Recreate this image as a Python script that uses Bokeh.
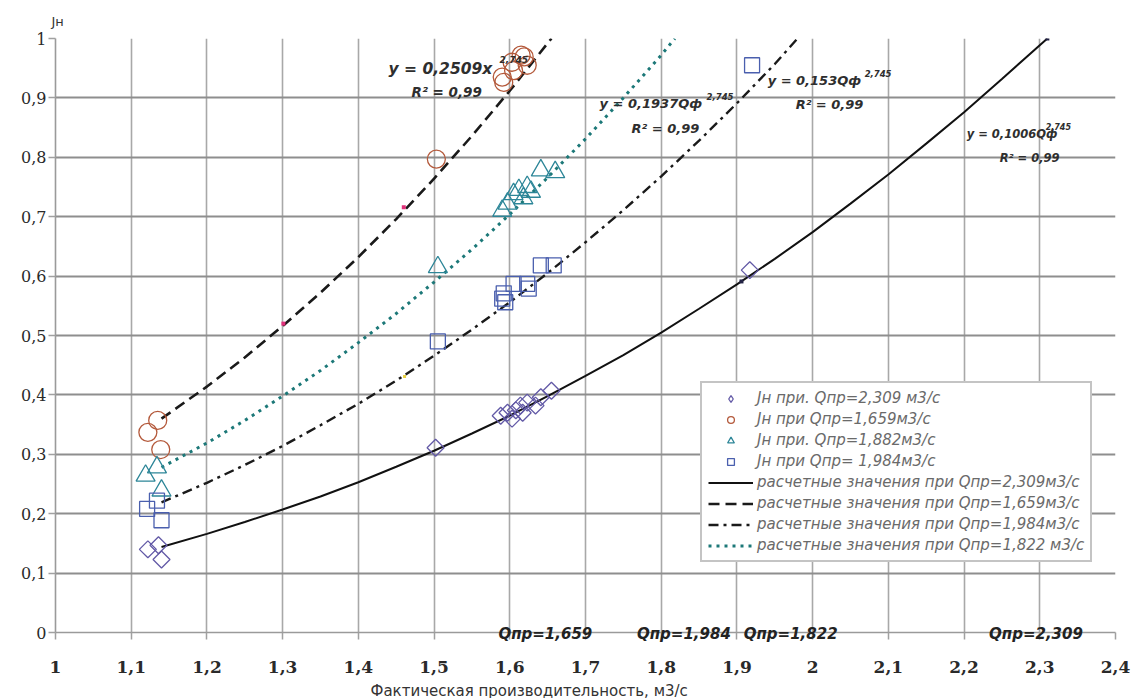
from bokeh.plotting import figure
from bokeh.models import (FixedTicker, Label, Legend, LegendItem, LinearAxis, Title)
from bokeh.embed import file_html
from bokeh.resources import INLINE
import math

# ---------------- data ----------------
x_ticks = [1.0, 1.1, 1.2, 1.3, 1.4, 1.5, 1.6, 1.7, 1.8, 1.9, 2.0, 2.1, 2.2, 2.3, 2.4]
x_tick_labels = ["1", "1,1", "1,2", "1,3", "1,4", "1,5", "1,6", "1,7", "1,8", "1,9",
                 "2", "2,1", "2,2", "2,3", "2,4"]
y_ticks = [0.0, 0.1, 0.2, 0.3, 0.4, 0.5, 0.6, 0.7, 0.8, 0.9, 1.0]
y_tick_labels = ["0", "0,1", "0,2", "0,3", "0,4", "0,5", "0,6", "0,7", "0,8", "0,9", "1"]

# Jн при Qпр=2,309 (diamonds)
diam_x = [1.122, 1.136, 1.140, 1.502, 1.588, 1.597, 1.603, 1.608, 1.614, 1.617,
          1.623, 1.634, 1.641, 1.655, 1.917]
diam_y = [0.140, 0.147, 0.123, 0.311, 0.365, 0.370, 0.360, 0.374, 0.382, 0.370,
          0.387, 0.382, 0.396, 0.407, 0.610]
# Jн при Qпр=1,659 (circles)
circ_x = [1.122, 1.135, 1.139, 1.503, 1.590, 1.592, 1.603, 1.605, 1.615, 1.619, 1.623]
circ_y = [0.337, 0.357, 0.308, 0.797, 0.935, 0.926, 0.960, 0.946, 0.972, 0.969, 0.955]
# Jн при Qпр=1,882 (triangles)
tri_x = [1.119, 1.134, 1.140, 1.505, 1.590, 1.597, 1.605, 1.612, 1.618, 1.623, 1.628,
         1.641, 1.660]
tri_y = [0.264, 0.278, 0.239, 0.615, 0.710, 0.722, 0.738, 0.745, 0.731, 0.750, 0.742,
         0.778, 0.775]
# Jн при Qпр=1,984 (squares)
sq_x = [1.121, 1.134, 1.140, 1.505, 1.590, 1.592, 1.594, 1.605, 1.623, 1.625, 1.641,
        1.658, 1.920]
sq_y = [0.208, 0.222, 0.189, 0.490, 0.562, 0.571, 0.556, 0.587, 0.587, 0.579, 0.618,
        0.618, 0.955]

# расчетные значения (fitted curves)
solid_x = [1.14, 1.20, 1.25, 1.30, 1.35, 1.40, 1.45, 1.50, 1.55, 1.60, 1.65, 1.70, 1.75,
           1.80, 1.85, 1.90, 1.95, 2.00, 2.05, 2.10, 2.15, 2.20, 2.25, 2.31]
solid_y = [0.144, 0.166, 0.186, 0.207, 0.229, 0.253, 0.279, 0.306, 0.335, 0.365, 0.398,
           0.432, 0.467, 0.505, 0.545, 0.586, 0.629, 0.674, 0.722, 0.771, 0.823, 0.876,
           0.932, 1.000]
dash_x = [1.14, 1.20, 1.25, 1.30, 1.35, 1.40, 1.45, 1.50, 1.55, 1.60, 1.655]
dash_y = [0.360, 0.414, 0.463, 0.516, 0.572, 0.632, 0.696, 0.764, 0.836, 0.912, 1.000]
dashdot_x = [1.14, 1.20, 1.25, 1.30, 1.35, 1.40, 1.45, 1.50, 1.55, 1.60, 1.65, 1.70,
             1.75, 1.80, 1.85, 1.90, 1.95, 1.98]
dashdot_y = [0.219, 0.252, 0.282, 0.314, 0.349, 0.385, 0.424, 0.466, 0.510, 0.556,
             0.605, 0.657, 0.711, 0.768, 0.828, 0.891, 0.957, 1.000]
dot_x = [1.14, 1.20, 1.25, 1.30, 1.35, 1.40, 1.45, 1.50, 1.55, 1.60, 1.65, 1.70, 1.75,
         1.80, 1.818]
dot_y = [0.278, 0.319, 0.357, 0.398, 0.441, 0.488, 0.537, 0.590, 0.645, 0.704, 0.766,
         0.831, 0.900, 0.972, 1.000]

# stray small markers on the curves
pink_x = [1.301, 1.460]
pink_y = [0.520, 0.716]
yellow_x = [1.461]
yellow_y = [0.431]
dark_x = [1.906, 2.310]
dark_y = [0.591, 1.000]

legend_labels = ["Jн при. Qпр=2,309 м3/с", "Jн при Qпр=1,659м3/с",
                 "Jн при. Qпр=1,882м3/с", "Jн при Qпр= 1,984м3/с",
                 "расчетные значения при Qпр=2,309м3/с",
                 "расчетные значения при Qпр=1,659м3/с",
                 "расчетные значения при Qпр=1,984м3/с",
                 "расчетные значения при Qпр=1,822 м3/с"]

q_labels = ["Qпр=1,659", "Qпр=1,984", "Qпр=1,822", "Qпр=2,309"]
q_label_x = [1.647, 1.830, 1.971, 2.295]

x_title = "Фактическая производительность, м3/с"
y_title = "Jн"

# ---------------- figure ----------------
p = figure(output_backend="svg", toolbar_location=None,
           frame_width=1060, frame_height=594,
           min_border_left=55, min_border_right=16, min_border_top=38, min_border_bottom=60,
           x_range=(1.0, 2.4), y_range=(0.0, 1.0),
           background_fill_color="white", border_fill_color="white")
p.outline_line_color = None

p.xgrid.ticker = FixedTicker(ticks=x_ticks)
p.ygrid.ticker = FixedTicker(ticks=y_ticks)
p.xgrid.grid_line_color = "#a8a8a8"
p.xgrid.grid_line_width = 1.6
p.ygrid.grid_line_color = "#8e8e8e"
p.ygrid.grid_line_width = 1.8

for ax, ticks, labels in ((p.xaxis[0], x_ticks, x_tick_labels), (p.yaxis[0], y_ticks, y_tick_labels)):
    ax.ticker = FixedTicker(ticks=ticks)
    ax.major_label_overrides = {t: l for t, l in zip(ticks, labels)}
    ax.minor_tick_line_color = None
    ax.major_tick_in = 0
    ax.major_tick_out = 7
    ax.major_tick_line_color = "#a0a0a0"
    ax.major_tick_line_width = 1.5
    ax.axis_line_color = "#9a9a9a"
    ax.axis_line_width = 1.6
    ax.major_label_text_font = "DejaVu Serif"
    ax.major_label_text_color = "#2a2a2a"

p.xaxis.major_label_text_font_size = "17px"
p.xaxis.major_label_text_font_style = "bold"
p.xaxis.major_label_standoff = 21
p.yaxis.major_label_text_font_size = "16px"
p.yaxis.major_label_standoff = 2

# Qпр labels as a secondary bottom axis pulled up onto the zero line
q_axis = LinearAxis(ticker=FixedTicker(ticks=q_label_x),
                    major_label_overrides={t: l for t, l in zip(q_label_x, q_labels)},
                    axis_line_color=None, major_tick_line_color=None,
                    minor_tick_line_color=None, major_tick_out=0, major_tick_in=0,
                    major_label_standoff=-51,
                    major_label_text_font="DejaVu Sans",
                    major_label_text_font_style="bold italic",
                    major_label_text_font_size="15px",
                    major_label_text_color="#222222")
p.add_layout(q_axis, "below")

# axis titles
p.add_layout(Title(text=x_title, align="left", offset=315, standoff=9,
                   text_font="DejaVu Sans", text_font_size="15px",
                   text_font_style="normal", text_color="#333333"), "below")
p.add_layout(Title(text=y_title, align="left", offset=-4, standoff=19,
                   text_font="DejaVu Sans", text_font_size="13px",
                   text_font_style="normal", text_color="#333333"), "above")

# fitted curves
r_solid = p.line(solid_x, solid_y, line_color="#111111", line_width=2)
r_dash = p.line(dash_x, dash_y, line_color="#1a1a1a", line_width=2.6, line_dash="11 6")
r_dashdot = p.line(dashdot_x, dashdot_y, line_color="#1a1a1a", line_width=2.4,
                   line_dash="10 5 3 5")
r_dot = p.line(dot_x, dot_y, line_color="#1c7878", line_width=3, line_dash="3 5")

# data markers (hollow)
p.scatter(diam_x, diam_y, marker="square", angle=math.pi / 4, size=12,
          fill_color=None, line_color="#6259a6", line_width=1.3)
r_circ = p.scatter(circ_x, circ_y, marker="circle", size=18,
                   fill_color=None, line_color="#b45a3c", line_width=1.3)
r_tri = p.scatter(tri_x, tri_y, marker="triangle", size=19,
                  fill_color=None, line_color="#2d8698", line_width=1.3)
r_sq = p.scatter(sq_x, sq_y, marker="square", size=15,
                 fill_color=None, line_color="#4a5fae", line_width=1.3)
# hidden legend proxy for the diamond series (only its legend glyph is shown)
r_diam_leg = p.scatter(diam_x, diam_y, marker="diamond", size=16, visible=False,
                       fill_color=None, line_color="#6259a6", line_width=1.3)

p.scatter(pink_x, pink_y, marker="square", size=4, fill_color="#e0307a", line_color=None)
p.scatter(yellow_x, yellow_y, marker="square", size=3, fill_color="#e8d040", line_color=None)
p.scatter(dark_x, dark_y, marker="square", size=4, fill_color="#222244", line_color=None)

# legend
legend = Legend(items=[
    LegendItem(label=legend_labels[0], renderers=[r_diam_leg]),
    LegendItem(label=legend_labels[1], renderers=[r_circ]),
    LegendItem(label=legend_labels[2], renderers=[r_tri]),
    LegendItem(label=legend_labels[3], renderers=[r_sq]),
    LegendItem(label=legend_labels[4], renderers=[r_solid]),
    LegendItem(label=legend_labels[5], renderers=[r_dash]),
    LegendItem(label=legend_labels[6], renderers=[r_dashdot]),
    LegendItem(label=legend_labels[7], renderers=[r_dot]),
], location=(645, 70))
legend.label_text_font = "DejaVu Sans"
legend.label_text_font_style = "italic"
legend.label_text_font_size = "15px"
legend.label_text_color = "#6a6a6a"
legend.glyph_width = 45
legend.glyph_height = 17
legend.label_height = 17
legend.label_standoff = 4
legend.spacing = 3
legend.padding = 6
legend.margin = 0
legend.inactive_fill_alpha = 0.0
legend.border_line_color = "#8a8a8a"
legend.border_line_width = 2
legend.background_fill_color = "white"
legend.background_fill_alpha = 1.0
p.add_layout(legend, "center")

# helper to convert reference pixel to data coordinates
def fx(px):
    return 1.0 + (px - 55) / 757.0

def fy(py):
    return (632 - py) / 594.0

ANN_FONT = "DejaVu Sans"
ANN_COLOR = "#2e2e2e"

def ann(text, px, py, size):
    p.add_layout(Label(x=fx(px), y=fy(py), text=text, text_font=ANN_FONT,
                       text_font_style="bold italic", text_font_size=size,
                       text_color=ANN_COLOR, text_baseline="middle", text_align="left"))

# regression equations
ann("y = 0,2509x", 388, 68, "15.5px")
ann("2,745", 499, 59, "9px")
ann("R² = 0,99", 411, 91, "13.5px")
ann("y = 0,1937Qф", 599, 103, "13px")
ann("2,745", 706, 96, "8.5px")
ann("R² = 0,99", 631, 128, "13px")
ann("y = 0,153Qф", 767, 80, "13px")
ann("2,745", 864, 73, "8.5px")
ann("R² = 0,99", 795, 104, "13px")
ann("y = 0,1006Qф", 966, 133, "11.5px")
ann("2,745", 1045, 126, "8px")
ann("R² = 0,99", 999, 157, "11.5px")

open("out.html", "w").write(file_html(p, INLINE))
